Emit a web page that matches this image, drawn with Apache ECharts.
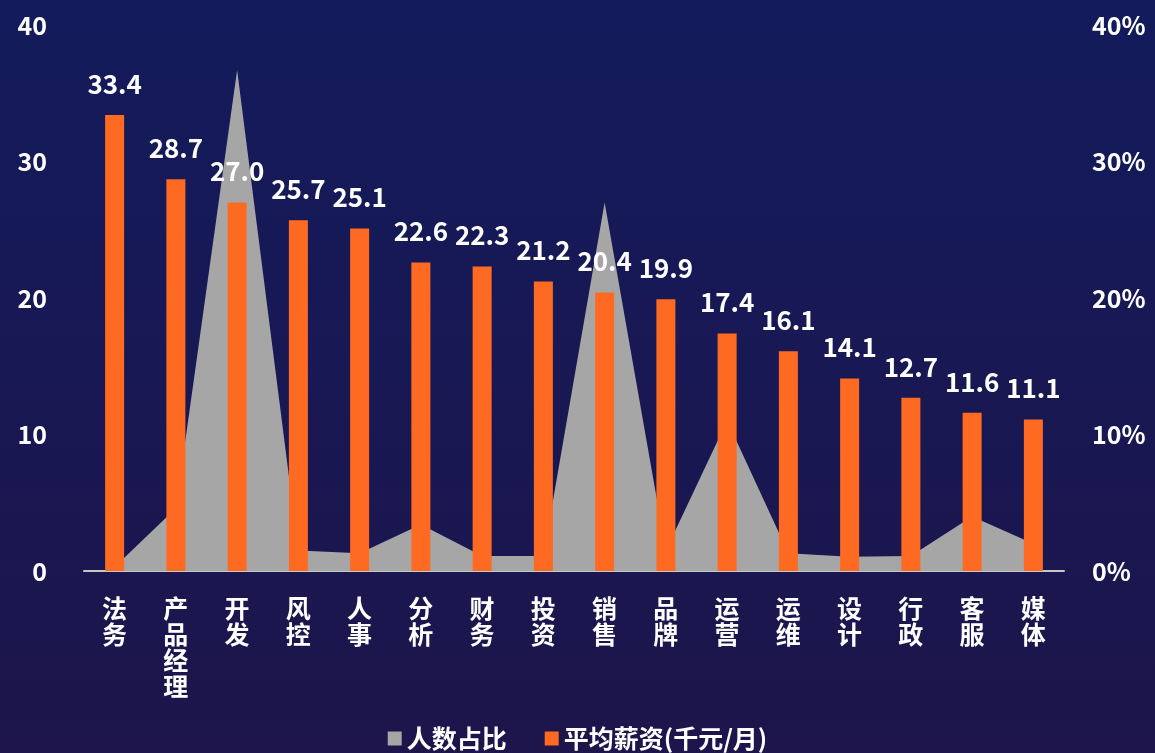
<!DOCTYPE html>
<html>
<head>
<meta charset="utf-8">
<script src="https://cdn.jsdelivr.net/npm/echarts@6/dist/echarts.min.js"></script>
<style>
  html, body { margin: 0; padding: 0; }
  #chart { width: 1155px; height: 753px; }
</style>
</head>
<body>
<div id="chart"></div>
<script>
// 岗位类别
const categories = ['法务', '产品经理', '开发', '风控', '人事', '分析', '财务', '投资',
  '销售', '品牌', '运营', '运维', '设计', '行政', '客服', '媒体'];
// 平均薪资(千元/月)
const salary = [33.4, 28.7, 27.0, 25.7, 25.1, 22.6, 22.3, 21.2,
  20.4, 19.9, 17.4, 16.1, 14.1, 12.7, 11.6, 11.1];
// 人数占比(%)
const share = [0.3, 4.6, 36.7, 1.5, 1.3, 3.4, 1.1, 1.1,
  27.0, 1.5, 11.0, 1.3, 1.05, 1.1, 4.0, 2.0];

const font = 'Noto Sans CJK SC';
const chart = echarts.init(document.getElementById('chart'));
chart.setOption({
  backgroundColor: {
    type: 'linear', x: 0, y: 0, x2: 0, y2: 1,
    colorStops: [{ offset: 0, color: '#131b5c' }, { offset: 1, color: '#1d154b' }]
  },
  textStyle: { fontFamily: font },
  legend: {
    top: 721,
    left: 'center',
    itemWidth: 14,
    itemHeight: 14,
    itemGap: 38,
    textStyle: { color: '#fff', fontSize: 25, fontWeight: 'bold', fontFamily: font },
    data: [
      { name: '人数占比', icon: 'rect' },
      { name: '平均薪资(千元/月)', icon: 'rect' }
    ]
  },
  grid: { left: 84, right: 91, top: 25, bottom: 182 },
  xAxis: {
    type: 'category',
    data: categories,
    axisLine: { lineStyle: { color: '#c8c8c8', width: 2 } },
    axisTick: { show: false },
    axisLabel: {
      color: '#fff', fontSize: 25, fontWeight: 'bold', fontFamily: font,
      lineHeight: 26, margin: 24, interval: 0,
      formatter: v => v.split('').join('\n')
    }
  },
  yAxis: [
    {
      type: 'value', min: 0, max: 40, interval: 10,
      splitLine: { show: false },
      axisLine: { show: false },
      axisLabel: { color: '#fff', fontSize: 25, fontWeight: 'bold', margin: 37, fontFamily: font }
    },
    {
      type: 'value', min: 0, max: 40, interval: 10,
      splitLine: { show: false },
      axisLine: { show: false },
      axisLabel: { color: '#fff', fontSize: 25, fontWeight: 'bold', margin: 28, fontFamily: font,
        formatter: '{value}%' }
    }
  ],
  series: [
    {
      name: '人数占比',
      type: 'line',
      yAxisIndex: 1,
      data: share,
      symbol: 'none',
      z: 1,
      lineStyle: { width: 0, color: '#a6a6a6' },
      itemStyle: { color: '#a6a6a6' },
      areaStyle: { color: '#a6a6a6', opacity: 1 }
    },
    {
      name: '平均薪资(千元/月)',
      type: 'bar',
      data: salary,
      barWidth: 19,
      z: 3,
      itemStyle: { color: '#ff6a22' },
      label: {
        show: true, position: 'top', distance: 18,
        color: '#fff', fontSize: 26, fontWeight: 'bold', fontFamily: font,
        formatter: p => p.value.toFixed(1)
      }
    }
  ]
});
</script>
</body>
</html>
